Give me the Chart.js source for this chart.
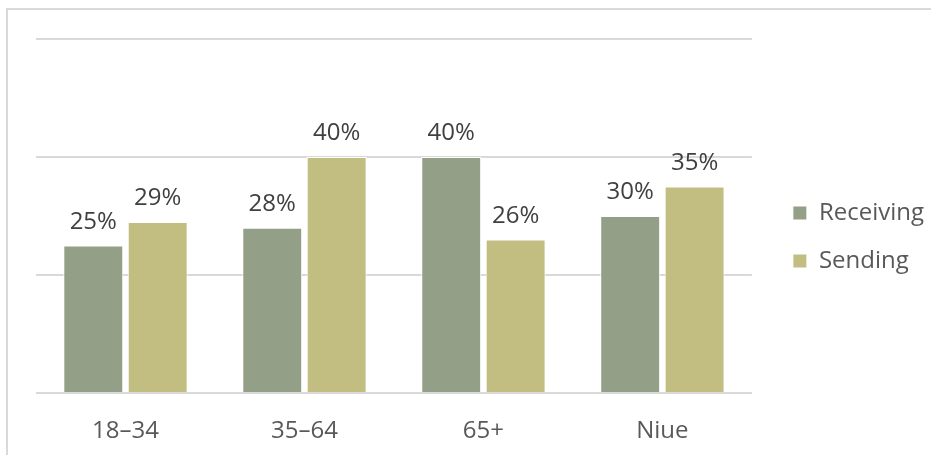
<!DOCTYPE html>
<html>
<head>
<meta charset="utf-8">
<script src="https://cdn.jsdelivr.net/npm/chart.js@4/dist/chart.umd.min.js"></script>
<style>
  html, body { margin: 0; padding: 0; background: #fff; }
  #wrap { position: relative; width: 931px; height: 455px; }
</style>
</head>
<body>
<div id="wrap"><canvas id="chart" width="931" height="455"></canvas></div>
<script>
const categories = ['18–34', '35–64', '65+', 'Niue'];
const receiving = [25, 28, 40, 30];
const sending = [29, 40, 26, 35];
const yTicks = [0, 20, 40, 60];

const FONT = '"Open Sans", "Noto Sans", sans-serif';

// percent labels above each bar
const barLabels = {
  id: 'barLabels',
  afterDatasetsDraw(chart) {
    const { ctx } = chart;
    ctx.save();
    ctx.font = `24px ${FONT}`;
    ctx.fillStyle = '#404040';
    ctx.textAlign = 'center';
    ctx.textBaseline = 'alphabetic';
    chart.data.datasets.forEach((ds, i) => {
      chart.getDatasetMeta(i).data.forEach((bar, j) => {
        ctx.fillText(ds.data[j] + '%', bar.x, bar.y - 17);
      });
    });
    ctx.restore();
  },
};

// nudge the legend a little right and up, away from the plot
const legendNudge = {
  id: 'legendNudge',
  afterLayout(chart) {
    const lg = chart.legend;
    lg.left += 17;
    lg.right += 17;
    lg.top -= 5;
    lg.bottom -= 5;
  },
};

// light frame round the whole chart
const frame = {
  id: 'frame',
  beforeDraw(chart) {
    const { ctx } = chart;
    ctx.save();
    ctx.strokeStyle = '#d9d9d9';
    ctx.lineWidth = 2;
    ctx.strokeRect(7, 9, chart.width + 10, chart.height + 10);
    ctx.restore();
  },
};

new Chart(document.getElementById('chart'), {
  type: 'bar',
  data: {
    labels: categories,
    datasets: [
      {
        label: 'Receiving',
        data: receiving,
        backgroundColor: '#939f86',
        borderColor: '#ffffff',
        borderWidth: 1,
      },
      {
        label: 'Sending',
        data: sending,
        backgroundColor: '#c2bd81',
        borderColor: '#ffffff',
        borderWidth: 1,
      },
    ],
  },
  options: {
    responsive: false,
    animation: false,
    categoryPercentage: 0.72,
    barPercentage: 0.93,
    layout: { padding: { left: 36, top: 39, right: 14, bottom: 10 } },
    scales: {
      x: {
        grid: { display: false },
        border: { display: false },
        ticks: { color: '#595959', font: { family: FONT, size: 24 }, padding: 16 },
        afterFit(scale) {
          scale.height = 52;
        },
      },
      y: {
        min: yTicks[0],
        max: yTicks[yTicks.length - 1],
        afterBuildTicks(scale) {
          scale.ticks = yTicks.map((v) => ({ value: v }));
        },
        ticks: { display: false },
        border: { display: false },
        grid: { color: '#d9d9d9', lineWidth: 2, drawTicks: false },
      },
    },
    plugins: {
      legend: {
        position: 'right',
        labels: {
          boxWidth: 14,
          boxHeight: 14,
          padding: 24,
          color: '#595959',
          font: { family: FONT, size: 24 },
        },
      },
      tooltip: { enabled: false },
    },
  },
  plugins: [barLabels, legendNudge, frame],
});
</script>
</body>
</html>
